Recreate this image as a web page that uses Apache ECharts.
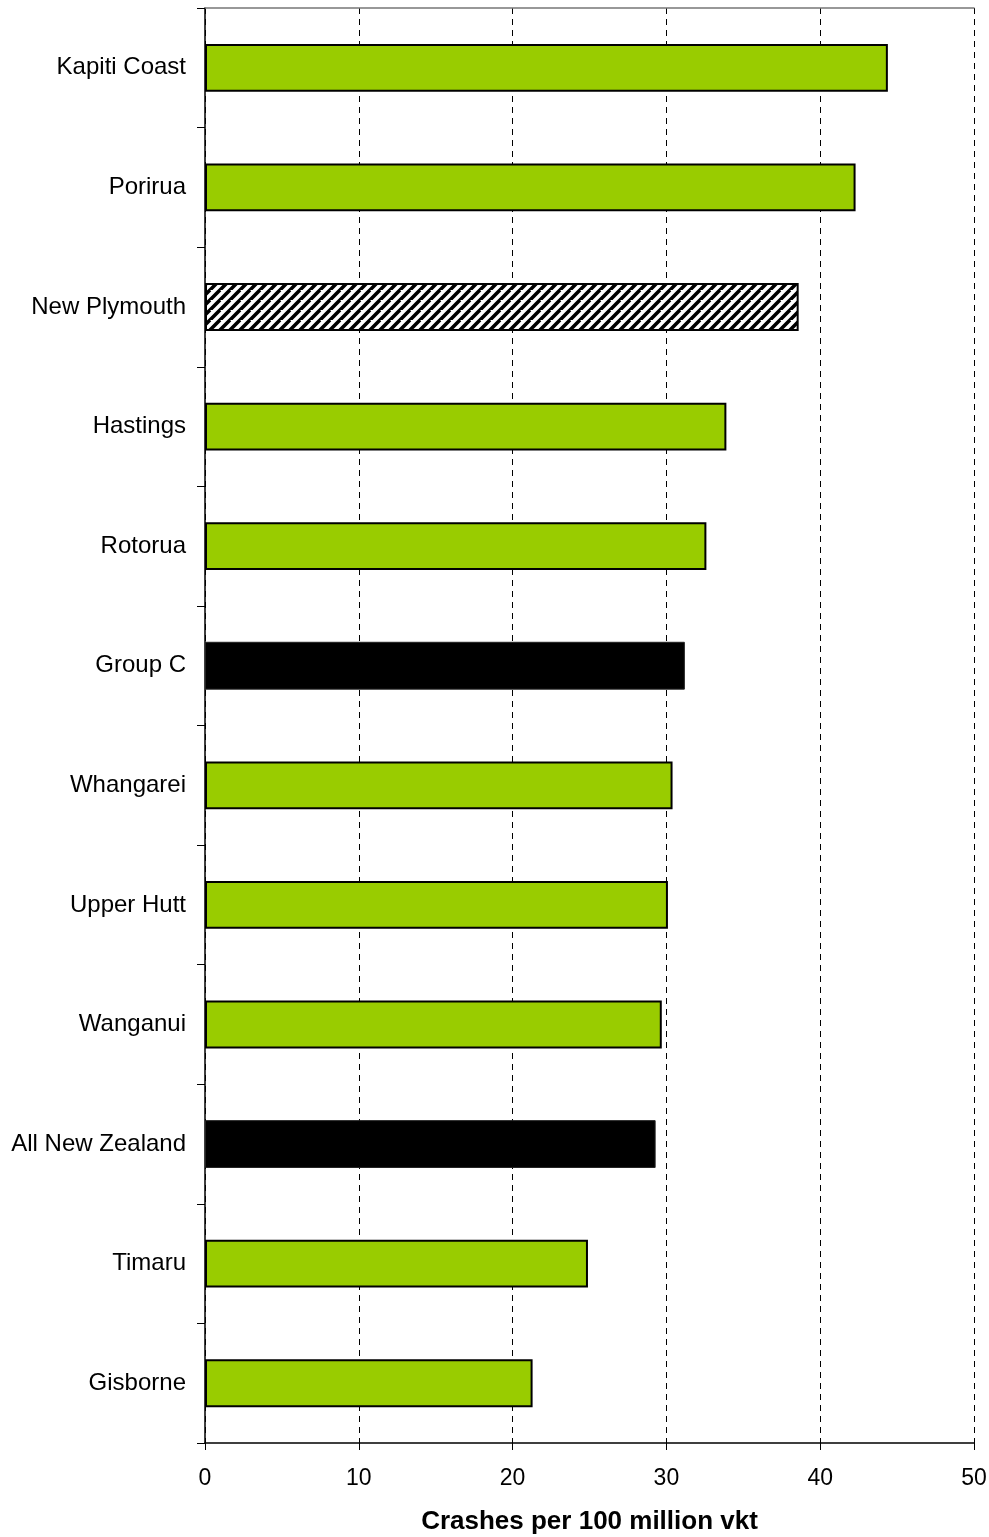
<!DOCTYPE html>
<html>
<head>
<meta charset="utf-8">
<script src="https://cdn.jsdelivr.net/npm/echarts@6/dist/echarts.min.js"></script>
<style>
html,body{margin:0;padding:0;background:#fff;}
#chart{width:989px;height:1537px;}
</style>
</head>
<body>
<div id="chart"></div>
<script>
const categories = ["Kapiti Coast","Porirua","New Plymouth","Hastings","Rotorua","Group C","Whangarei","Upper Hutt","Wanganui","All New Zealand","Timaru","Gisborne"];
const values = [44.4, 42.3, 38.6, 33.9, 32.6, 31.2, 30.4, 30.1, 29.7, 29.3, 24.9, 21.3];
const barKinds = ["green","green","hatch","green","green","black","green","green","green","black","green","green"];
const xTicks = [0, 10, 20, 30, 40, 50];
const axisTitle = "Crashes per 100 million vkt";

// hatch pattern
const P = 10;
const pc = document.createElement('canvas');
pc.width = P; pc.height = P;
const pctx = pc.getContext('2d');
pctx.fillStyle = '#fff';
pctx.fillRect(0,0,P,P);
pctx.strokeStyle = '#000';
pctx.lineWidth = 3.6;
pctx.beginPath();
for (let k = -P; k <= 2*P; k += P) {
  pctx.moveTo(k - P, 2*P); pctx.lineTo(k + P, 0);
}
pctx.stroke();

const styles = {
  green: {color: '#99CC00', borderColor: '#000', borderWidth: 2},
  hatch: {color: {image: pc, repeat: 'repeat'}, borderColor: '#000', borderWidth: 2},
  black: {color: '#000', borderColor: '#222', borderWidth: 1}
};

const data = values.map((v, i) => ({value: v, itemStyle: styles[barKinds[i]]}));
const font = '"Liberation Sans", Arial, sans-serif';

const chart = echarts.init(document.getElementById('chart'), null, {renderer: 'canvas'});
chart.setOption({
  animation: false,
  backgroundColor: '#fff',
  grid: {left: 205, right: 15, top: 8, bottom: 94, containLabel: false, outerBoundsMode: 'none'},
  xAxis: [{
    type: 'value', min: xTicks[0], max: xTicks[xTicks.length-1], interval: 10,
    position: 'bottom',
    axisLine: {show: true, lineStyle: {color: '#000', width: 1.5}},
    axisTick: {show: true, length: 7, lineStyle: {color: '#000'}},
    axisLabel: {color: '#000', fontSize: 23, fontFamily: font, margin: 24},
    splitLine: {show: true, lineStyle: {color: '#000', type: [6, 5], width: 1}},
    name: axisTitle, nameLocation: 'middle', nameGap: 66,
    nameTextStyle: {color: '#000', fontSize: 26, fontWeight: 'bold', fontFamily: font}
  }, {
    type: 'value', min: xTicks[0], max: xTicks[xTicks.length-1], interval: 10,
    position: 'top',
    axisLine: {show: true, lineStyle: {color: '#777', width: 1.5}},
    axisTick: {show: false}, axisLabel: {show: false}, splitLine: {show: false}
  }],
  yAxis: {
    type: 'category', data: categories, inverse: true,
    axisLine: {show: true, lineStyle: {color: '#000', width: 1.5}},
    axisTick: {show: true, length: 8, alignWithLabel: false, lineStyle: {color: '#000'}},
    axisLabel: {color: '#000', fontSize: 24, fontFamily: font, margin: 19},
    splitLine: {show: false}
  },
  series: [{
    type: 'bar', data: data, barWidth: '40%', xAxisIndex: 0,
    silent: true
  }]
});
</script>
</body>
</html>
